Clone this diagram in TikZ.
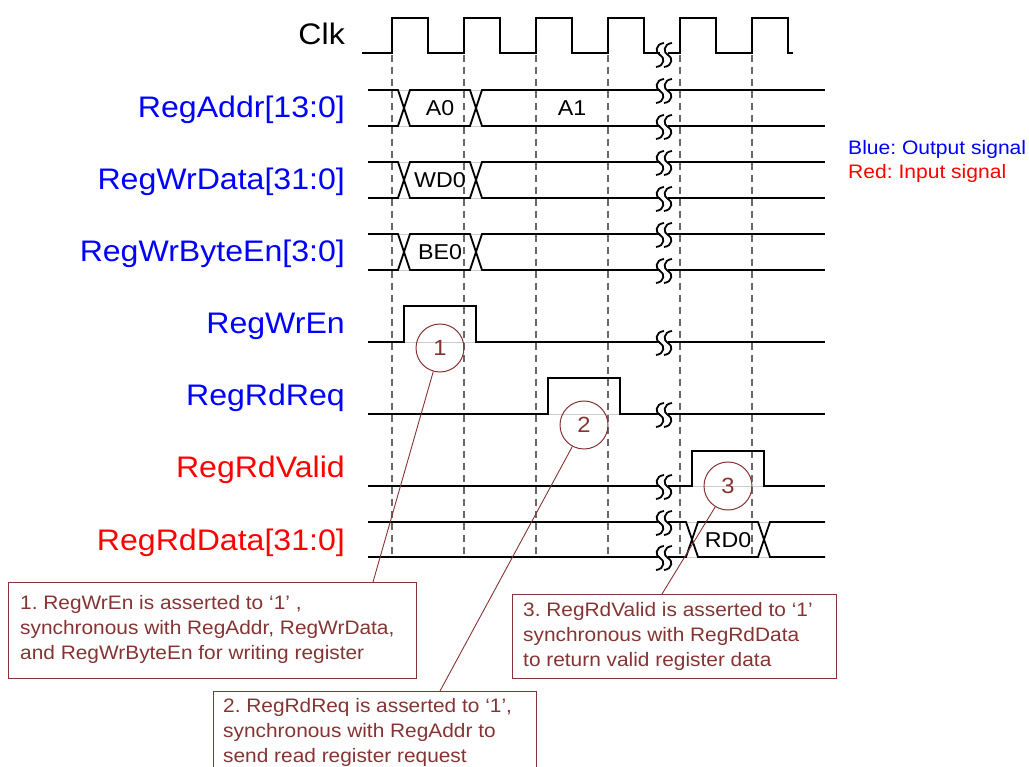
\documentclass[tikz,border=0pt]{standalone}
\usepackage{fontspec}
\setmainfont{Liberation Sans}[FakeStretch=1.08]
\newfontfamily\notefont{Liberation Sans}[FakeStretch=1.07]
\frenchspacing
\definecolor{noteclr}{RGB}{133,52,52}
\definecolor{dashclr}{RGB}{105,105,105}
\definecolor{outblue}{RGB}{0,0,255}
\definecolor{inred}{RGB}{255,0,0}
\newcommand\busrow[2]{%
  \draw[ghost] (398,#1) -- (410,#1) (398,#2) -- (410,#2) (470,#1) -- (482,#1) (470,#2) -- (482,#2);
  \draw[sig] (368,#1) -- (398,#1) -- (410,#2) -- (470,#2) -- (482,#1) -- (660,#1);
  \draw[sig] (368,#2) -- (398,#2) -- (410,#1) -- (470,#1) -- (482,#2) -- (660,#2);
  \draw[sig] (668,#1) -- (825,#1);
  \draw[sig] (668,#2) -- (825,#2);
  \pic at (664,{#1+1}) {brk};
  \pic at (664,{#2+1}) {brk};
}
\begin{document}
\begin{tikzpicture}[x=1pt,y=-1pt,
  sig/.style={line width=1.8pt, line join=miter},
  ghost/.style={line width=0.8pt, gray!40},
  vdash/.style={dashclr, line width=1.6pt, dash pattern=on 7pt off 5pt},
  lab/.style={font=\fontsize{29.7}{36}\selectfont, anchor=base east, inner sep=0},
  outsig/.style={lab, text=outblue},
  insig/.style={lab, text=inred},
  wtxt/.style={font=\fontsize{21.5}{26}\selectfont, inner sep=0},
  circ/.style={circle, draw=noteclr, line width=1pt, minimum size=48pt, inner sep=0, text=noteclr, font=\fontsize{22}{26}\selectfont},
  notebox/.style={draw=noteclr, line width=1pt, inner sep=0, anchor=north west},
  notetext/.style={font=\notefont\fontsize{19.5}{25}\selectfont, text=noteclr, align=left, inner sep=0, anchor=north west},
  leader/.style={noteclr, line width=0.9pt},
  legend/.style={font=\fontsize{19.5}{24}\selectfont, anchor=base west, inner sep=0},
  brk/.pic={
    \draw[sig] (0,-12) .. controls (-9,-11) and (-9,-2) .. (-4,0) .. controls (1,2) and (1,11) .. (-8,12);
    \draw[sig] (8,-12) .. controls (-1,-11) and (-1,-2) .. (4,0) .. controls (9,2) and (9,11) .. (0,12);
  }
]
\useasboundingbox (0,0) rectangle (1029,767);

% dashed clock guides
\foreach \x in {392,464,536,608,680,752}
  \draw[vdash] (\x,55) -- (\x,557);

% labels
\node[lab] (lclk) at (345,45) {Clk};
\node[outsig] (laddr) at (345,118) {RegAddr[13:0]};
\node[outsig] (lwd) at (345,190) {RegWrData[31:0]};
\node[outsig] (lbe) at (345,262) {RegWrByteEn[3:0]};
\node[outsig] (lwe) at (345,334) {RegWrEn};
\node[outsig] (lrr) at (345,406) {RegRdReq};
\node[insig] (lrv) at (345,478) {RegRdValid};
\node[insig] (lrd) at (345,550) {RegRdData[31:0]};

% clock
\draw[sig] (362,53) -- (392,53) -- (392,18) -- (428,18) -- (428,53) -- (464,53) -- (464,18) -- (500,18) -- (500,53) -- (536,53) -- (536,18) -- (572,18) -- (572,53) -- (608,53) -- (608,18) -- (644,18) -- (644,53) -- (660,53);
\draw[sig] (668,53) -- (680,53) -- (680,18) -- (716,18) -- (716,53) -- (752,53) -- (752,18) -- (788,18) -- (788,53) -- (793,53);
\pic at (664,55) {brk};

% buses
\busrow{90}{126}
\busrow{162}{198}
\busrow{234}{270}
\node[wtxt] (ta0) at (440,108) {A0};
\node[wtxt] (ta1) at (572,108) {A1};
\node[wtxt] (twd) at (440,180) {WD0};
\node[wtxt] (tbe) at (440,252) {BE0};

% RegWrEn
\draw[ghost] (404,342) -- (476,342);
\draw[sig] (368,342) -- (404,342) -- (404,306) -- (476,306) -- (476,342) -- (660,342);
\draw[sig] (668,342) -- (825,342);
\pic at (664,343) {brk};

% RegRdReq
\draw[ghost] (548,414) -- (620,414);
\draw[sig] (368,414) -- (548,414) -- (548,378) -- (620,378) -- (620,414) -- (660,414);
\draw[sig] (668,414) -- (825,414);
\pic at (664,415) {brk};

% RegRdValid
\draw[ghost] (692,486) -- (764,486);
\draw[sig] (368,486) -- (660,486);
\draw[sig] (668,486) -- (692,486) -- (692,451) -- (764,451) -- (764,486) -- (825,486);
\pic at (664,487) {brk};

% RegRdData
\draw[ghost] (686,522) -- (698,522) (686,557) -- (698,557) (758,522) -- (770,522) (758,557) -- (770,557);
\draw[sig] (368,522) -- (660,522);
\draw[sig] (368,557) -- (660,557);
\draw[sig] (668,522) -- (686,522) -- (698,557) -- (758,557) -- (770,522) -- (825,522);
\draw[sig] (668,557) -- (686,557) -- (698,522) -- (758,522) -- (770,557) -- (825,557);
\pic at (664,523) {brk};
\pic at (664,558) {brk};
\node[wtxt] (trd) at (728,540) {RD0};

% legend
\node[legend, text=outblue] (lgb) at (848,155) {Blue: Output signal};
\node[legend, text=inred] (lgr) at (848,179) {Red: Input signal};

% callouts
\node[circ] (c1) at (440,348) {1};
\node[circ] (c2) at (584,425) {2};
\node[circ] (c3) at (728,486) {3};

\node[notebox, minimum width=408pt, minimum height=96pt] (b1) at (8,582) {};
\node[notetext] (t1) at (20,595) {1. RegWrEn is asserted to ‘1’ ,\\synchronous with RegAddr, RegWrData,\\and RegWrByteEn for writing register};
\node[notebox, minimum width=323pt, minimum height=100pt] (b2) at (213,691) {};
\node[notetext] (t2) at (223,698) {2. RegRdReq is asserted to ‘1’,\\synchronous with RegAddr to\\send read register request};
\node[notebox, minimum width=324pt, minimum height=84pt] (b3) at (512,594) {};
\node[notetext] (t3) at (523,602) {3. RegRdValid is asserted to ‘1’\\synchronous with RegRdData\\to return valid register data};

\coordinate (p1) at (373,582);
\coordinate (p2) at (440,691);
\coordinate (p3) at (662,594);
\draw[leader] (c1) -- (p1);
\draw[leader] (c2) -- (p2);
\draw[leader] (c3) -- (p3);
\end{tikzpicture}
\end{document}
